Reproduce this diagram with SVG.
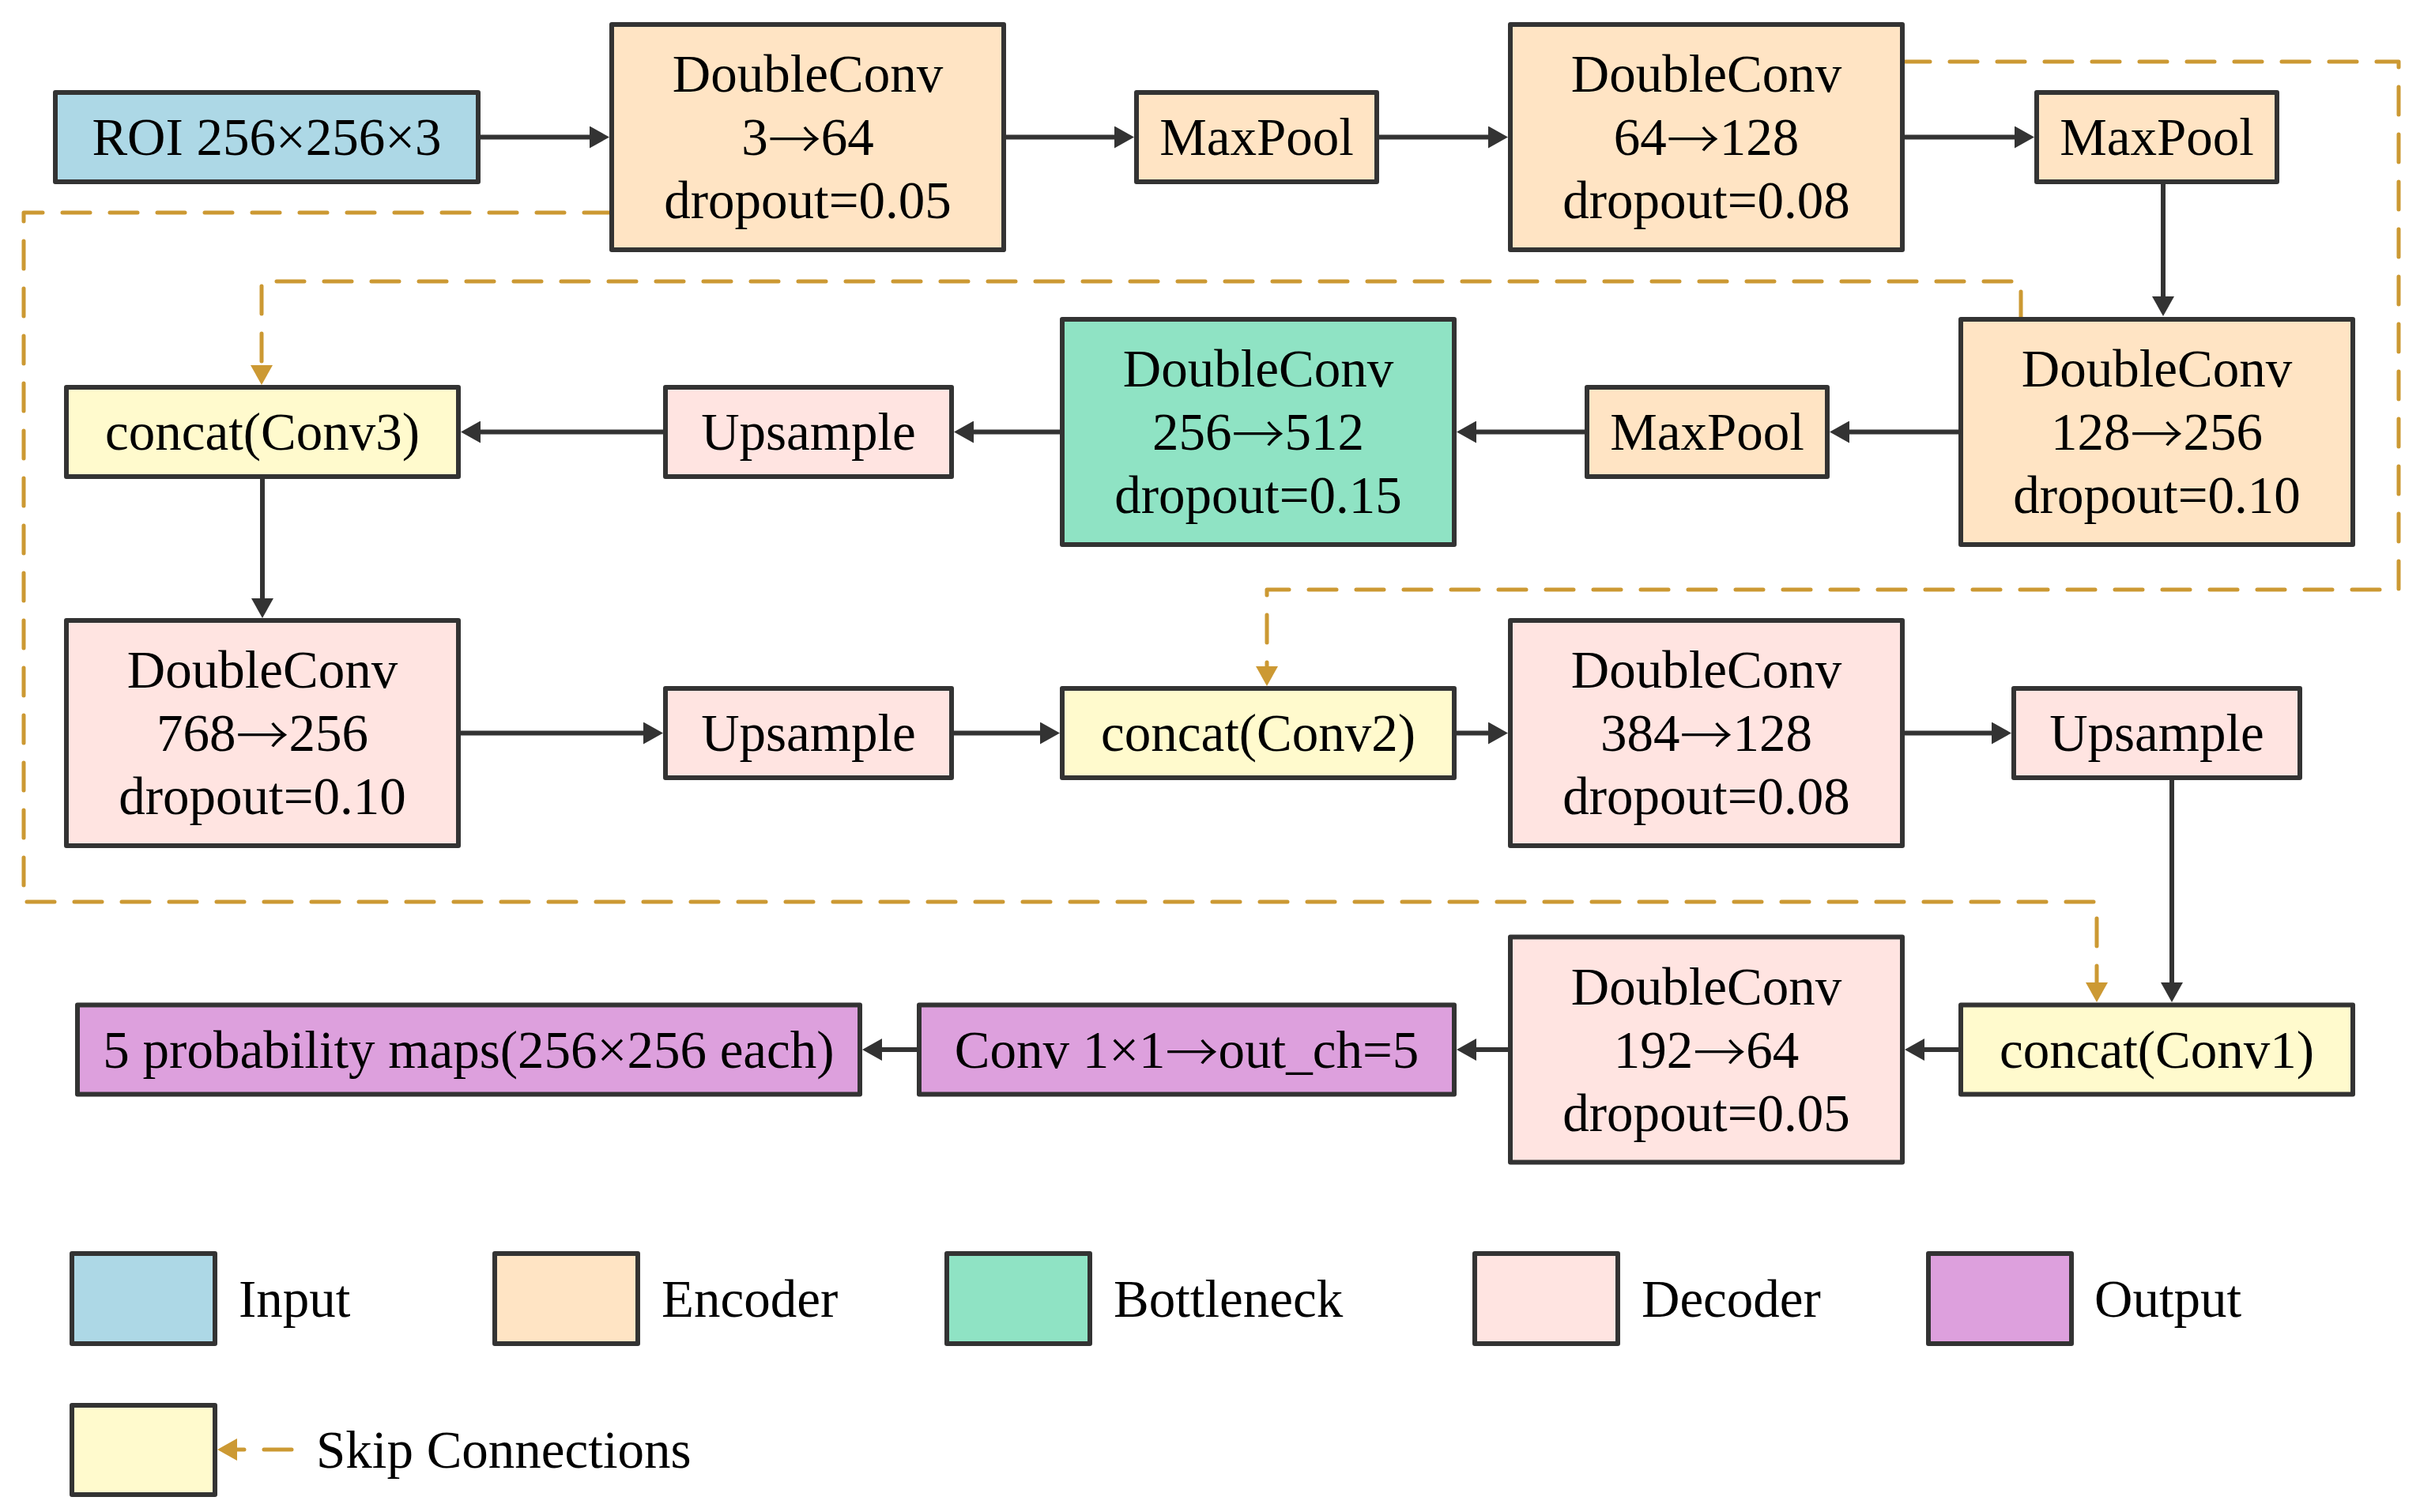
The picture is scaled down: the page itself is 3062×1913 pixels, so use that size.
<svg xmlns="http://www.w3.org/2000/svg" width="3062" height="1913" viewBox="0 0 3062 1913">
<style>
.box{stroke:#333333;stroke-width:6;stroke-linejoin:round}
.in{fill:#ADD8E6}.enc{fill:#FFE4C4}.bot{fill:#8FE3C4}.dec{fill:#FFE4E1}.out{fill:#DDA0DD}.cat{fill:#FFFACD}
text{font-family:"Liberation Serif","Times New Roman",serif;font-size:67px;fill:#000}
.ar{font-family:"Noto Sans CJK JP","Liberation Serif",sans-serif;font-weight:300}
.c{text-anchor:middle}
.flow{fill:none;stroke:#333333;stroke-width:6;marker-end:url(#ah)}
.skip{fill:none;stroke:#CC9933;stroke-width:5;stroke-dasharray:35 25;stroke-linecap:round;stroke-linejoin:round;marker-end:url(#ahg)}
</style>
<defs>
<marker id="ah" viewBox="0 0 25 28" refX="0" refY="14" markerWidth="25" markerHeight="28" markerUnits="userSpaceOnUse" orient="auto"><path d="M0,0 L25,14 L0,28 z" fill="#333333"/></marker>
<marker id="ahg" viewBox="0 0 25 28" refX="0" refY="14" markerWidth="25" markerHeight="28" markerUnits="userSpaceOnUse" orient="auto"><path d="M0,0 L25,14 L0,28 z" fill="#CC9933"/></marker>
</defs>
<rect width="3062" height="1913" fill="#FFFFFF"/>
<g id="connectors">
<path class="flow" d="M605,173.5 H746"/>
<path class="flow" d="M1270,173.5 H1410"/>
<path class="flow" d="M1742,173.5 H1883"/>
<path class="flow" d="M2407,173.5 H2549"/>
<path class="flow" d="M2737,230 V375"/>
<path class="flow" d="M2481,546.5 H2340"/>
<path class="flow" d="M2008,546.5 H1868"/>
<path class="flow" d="M1344,546.5 H1232"/>
<path class="flow" d="M842,546.5 H608"/>
<path class="flow" d="M332,603 V757"/>
<path class="flow" d="M580,927.5 H814"/>
<path class="flow" d="M1204,927.5 H1316"/>
<path class="flow" d="M1840,927.5 H1883"/>
<path class="flow" d="M2407,927.5 H2520"/>
<path class="flow" d="M2748,984 V1243"/>
<path class="flow" d="M2481,1328 H2435"/>
<path class="flow" d="M1911,1328 H1868"/>
<path class="flow" d="M1163,1328 H1116"/>
<path class="skip" d="M774,269 H30 V1141 H2653 V1243"/>
<path class="skip" d="M2557,404 V356 H331 V462"/>
<path class="skip" d="M2407,78 H3035 V746 H1603 V843"/>
</g>
<g id="n_roi"><rect class="box in" x="70" y="117" width="535" height="113"/><text class="c" x="337.5" y="196">ROI 256×256×3</text></g>
<g id="n_dc1"><rect class="box enc" x="774" y="31" width="496" height="285"/><text class="c" x="1022" y="116">DoubleConv</text><text class="c" x="1022" y="196">3<tspan class="ar" dy="5">→</tspan><tspan dy="-5">64</tspan></text><text class="c" x="1022" y="276">dropout=0.05</text></g>
<g id="n_mp1"><rect class="box enc" x="1438" y="117" width="304" height="113"/><text class="c" x="1590" y="196">MaxPool</text></g>
<g id="n_dc2"><rect class="box enc" x="1911" y="31" width="496" height="285"/><text class="c" x="2159" y="116">DoubleConv</text><text class="c" x="2159" y="196">64<tspan class="ar" dy="5">→</tspan><tspan dy="-5">128</tspan></text><text class="c" x="2159" y="276">dropout=0.08</text></g>
<g id="n_mp2"><rect class="box enc" x="2577" y="117" width="304" height="113"/><text class="c" x="2729" y="196">MaxPool</text></g>
<g id="n_dc3"><rect class="box enc" x="2481" y="404" width="496" height="285"/><text class="c" x="2729" y="489">DoubleConv</text><text class="c" x="2729" y="569">128<tspan class="ar" dy="5">→</tspan><tspan dy="-5">256</tspan></text><text class="c" x="2729" y="649">dropout=0.10</text></g>
<g id="n_mp3"><rect class="box enc" x="2008" y="490" width="304" height="113"/><text class="c" x="2160" y="569">MaxPool</text></g>
<g id="n_bott"><rect class="box bot" x="1344" y="404" width="496" height="285"/><text class="c" x="1592" y="489">DoubleConv</text><text class="c" x="1592" y="569">256<tspan class="ar" dy="5">→</tspan><tspan dy="-5">512</tspan></text><text class="c" x="1592" y="649">dropout=0.15</text></g>
<g id="n_up1"><rect class="box dec" x="842" y="490" width="362" height="113"/><text class="c" x="1023" y="569">Upsample</text></g>
<g id="n_cat3"><rect class="box cat" x="84" y="490" width="496" height="113"/><text class="c" x="332" y="569">concat(Conv3)</text></g>
<g id="n_dc4"><rect class="box dec" x="84" y="785" width="496" height="285"/><text class="c" x="332" y="870">DoubleConv</text><text class="c" x="332" y="950">768<tspan class="ar" dy="5">→</tspan><tspan dy="-5">256</tspan></text><text class="c" x="332" y="1030">dropout=0.10</text></g>
<g id="n_up2"><rect class="box dec" x="842" y="871" width="362" height="113"/><text class="c" x="1023" y="950">Upsample</text></g>
<g id="n_cat2"><rect class="box cat" x="1344" y="871" width="496" height="113"/><text class="c" x="1592" y="950">concat(Conv2)</text></g>
<g id="n_dc5"><rect class="box dec" x="1911" y="785" width="496" height="285"/><text class="c" x="2159" y="870">DoubleConv</text><text class="c" x="2159" y="950">384<tspan class="ar" dy="5">→</tspan><tspan dy="-5">128</tspan></text><text class="c" x="2159" y="1030">dropout=0.08</text></g>
<g id="n_up3"><rect class="box dec" x="2548" y="871" width="362" height="113"/><text class="c" x="2729" y="950">Upsample</text></g>
<g id="n_cat1"><rect class="box cat" x="2481" y="1271.5" width="496" height="113"/><text class="c" x="2729" y="1350.5">concat(Conv1)</text></g>
<g id="n_dc6"><rect class="box dec" x="1911" y="1185.5" width="496" height="285"/><text class="c" x="2159" y="1270.5">DoubleConv</text><text class="c" x="2159" y="1350.5">192<tspan class="ar" dy="5">→</tspan><tspan dy="-5">64</tspan></text><text class="c" x="2159" y="1430.5">dropout=0.05</text></g>
<g id="n_conv"><rect class="box out" x="1163" y="1271.5" width="677" height="113"/><text class="c" x="1501.5" y="1350.5">Conv 1×1<tspan class="ar" dy="5">→</tspan><tspan dy="-5">out_ch=5</tspan></text></g>
<g id="n_out"><rect class="box out" x="98" y="1271.5" width="990" height="113"/><text class="c" x="593" y="1350.5">5 probability maps(256×256 each)</text></g>
<g id="legend">
<rect class="box in" x="91" y="1586" width="181" height="114"/><text x="302" y="1666">Input</text>
<rect class="box enc" x="626" y="1586" width="181" height="114"/><text x="837" y="1666">Encoder</text>
<rect class="box bot" x="1198" y="1586" width="181" height="114"/><text x="1409" y="1666">Bottleneck</text>
<rect class="box dec" x="1866" y="1586" width="181" height="114"/><text x="2077" y="1666">Decoder</text>
<rect class="box out" x="2440" y="1586" width="181" height="114"/><text x="2650" y="1666">Output</text>
<rect class="box cat" x="91" y="1778" width="181" height="113"/>
<path fill="none" stroke="#CC9933" stroke-width="5" stroke-dasharray="35 25" stroke-linecap="round" d="M369,1834 H300"/>
<path d="M300,1820 L275,1834 L300,1848 z" fill="#CC9933"/>
<text x="400" y="1857">Skip Connections</text>
</g>
</svg>
